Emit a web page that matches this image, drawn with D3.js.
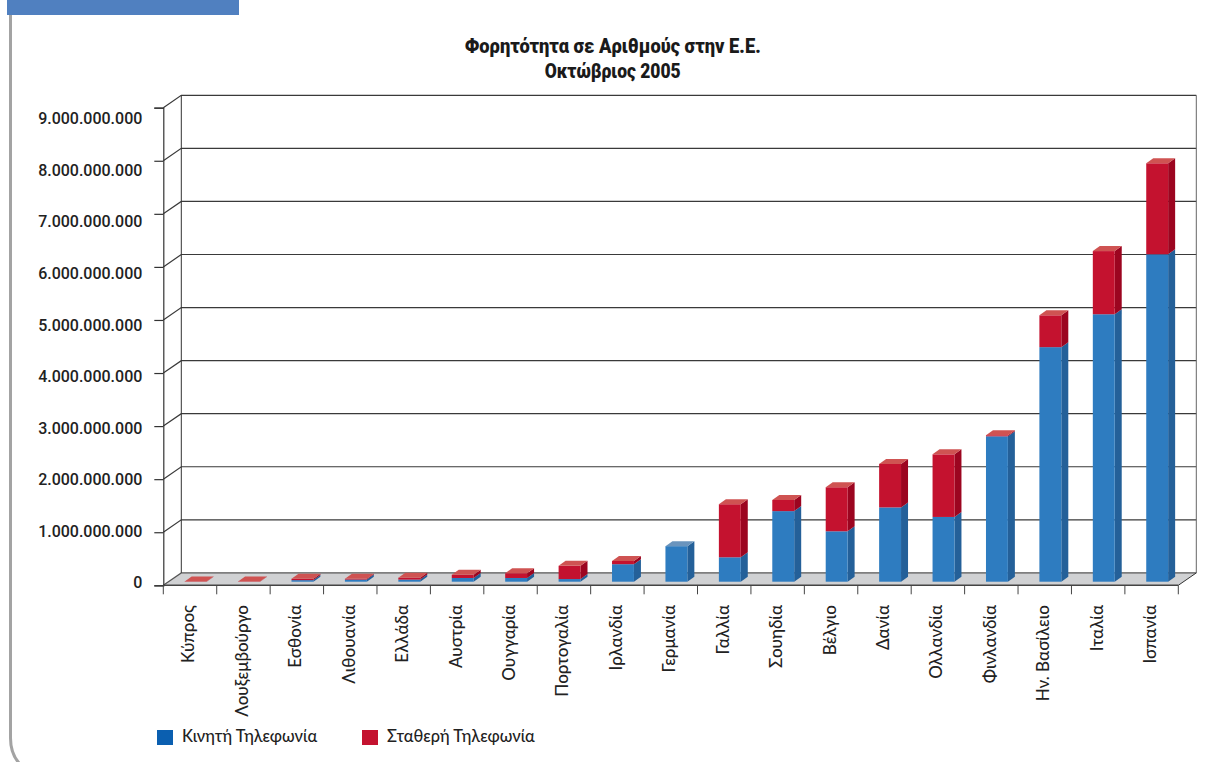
<!DOCTYPE html>
<html><head><meta charset="utf-8">
<script src="https://cdnjs.cloudflare.com/ajax/libs/d3/7.8.5/d3.min.js"></script>
<style>
html,body{margin:0;padding:0;background:#fff;overflow:hidden}
svg{display:block}
text{font-family:"Lato","Open Sans",sans-serif;fill:#222}
</style></head><body>
<svg id="c" width="1209" height="762"></svg>
<script>
const categories=["Κύπρος","Λουξεμβούργο","Εσθονία","Λιθουανία","Ελλάδα","Αυστρία","Ουγγαρία","Πορτογαλία","Ιρλανδία","Γερμανία","Γαλλία","Σουηδία","Βέλγιο","Δανία","Ολλανδία","Φινλανδία","Ην. Βασίλειο","Ιταλία","Ισπανία"];
const mobile=[0,0,30e6,40e6,40e6,70e6,70e6,50e6,330e6,670e6,460e6,1330e6,950e6,1400e6,1220e6,2740e6,4420e6,5040e6,6170e6];
const fixed=[5e6,5e6,25e6,15e6,35e6,60e6,90e6,250e6,60e6,0,1000e6,210e6,830e6,820e6,1180e6,20e6,600e6,1190e6,1715e6];
const yTicks=[0,1e9,2e9,3e9,4e9,5e9,6e9,7e9,8e9,9e9];
const titleLines=["Φορητότητα σε Αριθμούς στην Ε.Ε.","Οκτώβριος 2005"];
const legendLabels=["Κινητή Τηλεφωνία","Σταθερή Τηλεφωνία"];
const legendColors=["#0b5fb0","#c4122f"];

const svg=d3.select("#c");
const x=d3.scaleBand().domain(categories).range([163.3,1178.3]).paddingInner(0.59).paddingOuter(0.295);
const y=d3.scaleLinear().domain([0,9e9]).range([585.3,107.7]);
const yLabel=d3.scaleLinear().domain([0,9e9]).range([582,117.7]);
const backDx=18,backDy=-12.4;
const barDx=5.6,sideDx=7,sideDy=-5;
const fmt=d3.formatLocale({decimal:",",thousands:".",grouping:[3],currency:["","€"]}).format(",d");

// page frame
svg.append("path").attr("d","M10.5,15V738Q10.5,756 22,766").attr("fill","none").attr("stroke","#a3a3a3").attr("stroke-width",3);
svg.append("rect").attr("x",7).attr("y",0).attr("width",232).attr("height",15).attr("fill","#5080c0");

// title
const titleW=[296,136];
svg.selectAll(".t").data(titleLines).join("text").attr("class","t")
 .attr("x",612.7).attr("y",(d,i)=>53+i*25).attr("text-anchor","middle")
 .attr("textLength",(d,i)=>titleW[i]).attr("lengthAdjust","spacingAndGlyphs")
 .style("font-family","Roboto").style("font-size","20px").style("font-weight",900).style("fill","#1a1a1a").text(d=>d);

// floor
const x0=163.3,x1=1178.3,y0=y(0);
svg.append("path").attr("d",`M${x0},${y0}L${x0+backDx},${y0+backDy}H${x1+backDx}L${x1},${y0}Z`).attr("fill","#d0d1d3");

// walls and gridlines
const g=svg.append("g").attr("fill","none").attr("stroke","#333");
g.selectAll(".grid").data(yTicks).join("path").attr("class","grid")
 .attr("d",d=>`M${x0},${y(d)}L${x0+backDx},${y(d)+backDy}H${x1+backDx}`).attr("stroke-width",1.2).attr("stroke",d=>d?"#3a3a3a":"#555");
g.append("path").attr("d",`M${x0+backDx},${y(0)+backDy}V${y(9e9)+backDy}`).attr("stroke-width",1);
g.append("path").attr("d",`M${x1+backDx},${y(0)+backDy}V${y(9e9)+backDy}`).attr("stroke","#666").attr("stroke-width",1);
g.append("path").attr("d",`M${x1},${y0}L${x1+backDx},${y0+backDy}`).attr("stroke-width",1);

// value axis
const yAxis=svg.append("g").attr("transform",`translate(${x0},0)`).call(d3.axisLeft(y).tickValues(yTicks).tickFormat(fmt).tickSize(9).tickPadding(12));
yAxis.selectAll("path,line").attr("stroke","#333").attr("stroke-width",1.2);
yAxis.selectAll(".tick text").style("font-family","Roboto").style("font-size","17px").style("font-weight",500).style("fill","#222")
 .attr("dy","0.35em").attr("transform",d=>`translate(0,${yLabel(d)-y(d)})`)
 .each(function(){d3.select(this).attr("lengthAdjust","spacingAndGlyphs").attr("textLength",this.getComputedTextLength()*0.94);});
yAxis.attr("font-family",null);

// category axis
const xTicks=d3.range(categories.length+1).map(i=>x0+i*(x1-x0)/categories.length);
const ax=svg.append("g").attr("stroke","#444");
ax.append("path").attr("d",`M${x0},${y0}H${x1}`).attr("stroke-width",1.4);
ax.selectAll("line").data(xTicks).join("line").attr("x1",d=>d).attr("x2",d=>d).attr("y1",y0).attr("y2",y0+9).attr("stroke-width",1);

svg.selectAll(".cat").data(categories).join("text").attr("class","cat")
 .attr("transform",d=>`translate(${x(d)+x.bandwidth()/2-1.5},605) rotate(-90)`)
 .attr("text-anchor","end").attr("dy","0.35em").style("font-size","17px").style("font-weight",500).text(d=>d);

// bars
const segs=categories.map((c,i)=>[
 {c,a:0,b:mobile[i],front:"#2e7cc0",side:"#246099"},
 {c,a:mobile[i],b:mobile[i]+fixed[i],front:"#c4122f",side:"#9c0520"}
]).flat().filter(d=>d.b>d.a);
const bars=svg.append("g");
const ys=v=>y(v)-3.6;
segs.forEach(s=>{
 const bx=x(s.c)+barDx, w=x.bandwidth();
 const g=bars.append("g");
 g.append("path").attr("fill",s.side).attr("d",`M${bx+w},${ys(s.a)}l${sideDx},${sideDy}V${ys(s.b)+sideDy}l${-sideDx},${-sideDy}Z`);
 g.append("rect").attr("fill",s.front).attr("x",bx).attr("y",ys(s.b)).attr("width",w).attr("height",ys(s.a)-ys(s.b));
});
// caps: only on the top segment of each stack
categories.forEach((c,i)=>{
 const t=mobile[i]+fixed[i], bx=x(c)+barDx, w=x.bandwidth();
 const col=fixed[i]>0?"#cf5352":"#6a94bd";
 bars.append("path").attr("fill",col).attr("d",`M${bx},${ys(t)}l${sideDx},${sideDy}h${w}l${-sideDx},${-sideDy}Z`);
});

// legend
const lx=[157,362];
const lg=svg.selectAll(".lg").data(legendLabels).join("g").attr("class","lg").attr("transform",(d,i)=>`translate(${lx[i]},730)`);
lg.append("rect").attr("width",16).attr("height",15).attr("fill",(d,i)=>legendColors[i]);
lg.append("text").attr("x",25).attr("y",12).style("font-size","16.4px").style("font-weight",500).text(d=>d);
</script></body></html>
